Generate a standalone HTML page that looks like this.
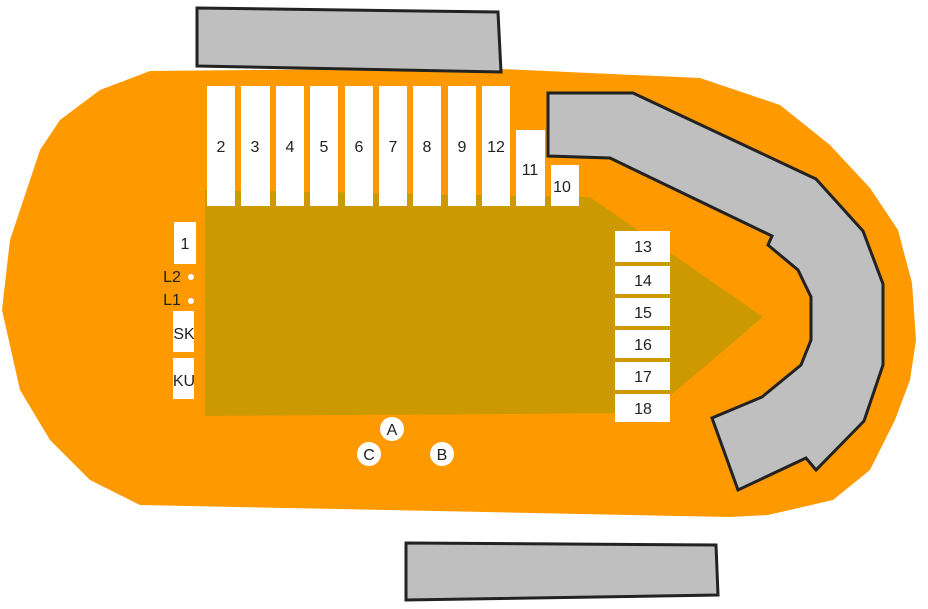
<!DOCTYPE html>
<html><head><style>body{margin:0;background:#fff}svg{display:block}text{font-family:"Liberation Sans",sans-serif;fill:#222}</style></head><body>
<svg width="928" height="609" viewBox="0 0 928 609">
<polygon points="150,71 480,68 700,78 780,105 830,145 870,188 898,230 912,283 916,340 910,380 895,420 870,470 833,500 768,515 730,517 140,505 90,480 50,440 20,390 2,310 10,240 40,150 60,120 100,90" fill="#ff9900"/>
<polygon points="205,190 590,197 763,317 650,413 205,416" fill="#cc9900"/>
<polygon points="197,8 498,12 501,72 197,66" fill="#bfbfbf" stroke="#222" stroke-width="3"/>
<polygon points="406,543 716,545 718,595 406,600" fill="#bfbfbf" stroke="#222" stroke-width="3"/>
<polygon points="548,93 633,93 816,179 863,231 883,284 883,365 864,421 816,470 806,458 738,490 712,418 762,397 801,365 811,340 811,297 798,270 768,245 772,236 693,198 610,158 548,156" fill="#bfbfbf" stroke="#222" stroke-width="3"/>
<g fill="#fff">
<rect x="207" y="86" width="28" height="120"/><rect x="241" y="86" width="29" height="120"/><rect x="276" y="86" width="28" height="120"/><rect x="310" y="86" width="28" height="120"/><rect x="345" y="86" width="28" height="120"/><rect x="379" y="86" width="28" height="120"/><rect x="413" y="86" width="28" height="120"/><rect x="448" y="86" width="28" height="120"/><rect x="482" y="86" width="28" height="120"/>
<rect x="516" y="130" width="29" height="76"/><rect x="551" y="165" width="28" height="41"/>
<rect x="174" y="222" width="22" height="42"/><rect x="173" y="311" width="21" height="41"/><rect x="173" y="358" width="21" height="41"/>
<circle cx="191" cy="277" r="3"/><circle cx="191" cy="301" r="3"/>
<rect x="615" y="231" width="55" height="31"/><rect x="615" y="266" width="55" height="28"/><rect x="615" y="298" width="55" height="28"/><rect x="615" y="330" width="55" height="28"/><rect x="615" y="362" width="55" height="28"/><rect x="615" y="394" width="55" height="28"/>
<circle cx="392" cy="429" r="12"/><circle cx="369" cy="454" r="12"/><circle cx="442" cy="454" r="12"/>
</g>
<g font-size="16" text-anchor="middle">
<text x="221" y="152">2</text><text x="255" y="152">3</text><text x="290" y="152">4</text><text x="324" y="152">5</text><text x="359" y="152">6</text><text x="393" y="152">7</text><text x="427" y="152">8</text><text x="462" y="152">9</text><text x="496" y="152">12</text>
<text x="530" y="175">11</text><text x="562" y="192">10</text>
<text x="185" y="249">1</text><text x="184" y="339">SK</text><text x="184" y="386">KU</text>
<text x="172" y="282">L2</text><text x="172" y="305">L1</text>
<text x="643" y="252">13</text><text x="643" y="286">14</text><text x="643" y="318">15</text><text x="643" y="350">16</text><text x="643" y="382">17</text><text x="643" y="414">18</text>
<text x="392" y="435">A</text><text x="369" y="460">C</text><text x="442" y="460">B</text>
</g>
</svg>
</body></html>
